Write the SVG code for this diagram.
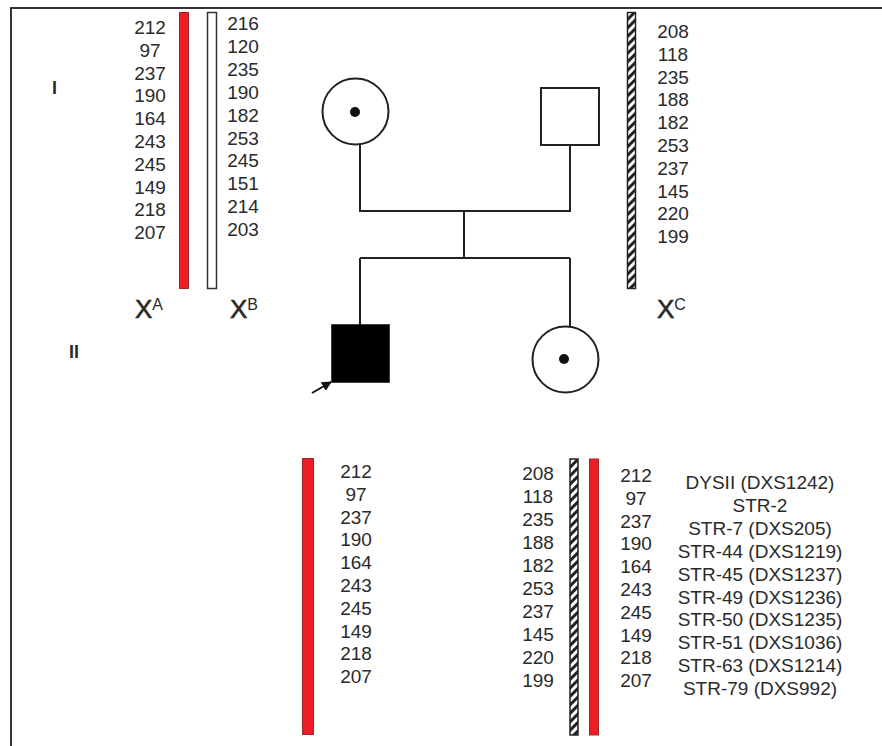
<svg xmlns="http://www.w3.org/2000/svg" width="882" height="746" viewBox="0 0 882 746">
<style>
text{font-family:"Liberation Sans",Arial,sans-serif;fill:#2a2a2a;}
.n{font-size:19px;text-anchor:middle;}
.m{font-size:19px;text-anchor:middle;}
.x{font-size:26px;stroke:#2a2a2a;stroke-width:0.6;}
.s{font-size:16px;}
.g{font-size:18px;font-weight:bold;}
.ln{stroke:#222;stroke-width:2;fill:none;}
.red{fill:#ee1c25;stroke:#9a2a2a;stroke-width:1;}
.hat{fill:url(#hatch);stroke:#222;stroke-width:1.5;}
</style>
<defs>
<pattern id="hatch" patternUnits="userSpaceOnUse" width="6" height="6" patternTransform="rotate(-45)">
<rect width="6" height="6" fill="#fff"/>
<rect width="6" height="3" fill="#222"/>
</pattern>
<marker id="arr" viewBox="0 0 10 10" refX="9" refY="5" markerWidth="5" markerHeight="5" orient="auto">
<path d="M0,0 L10,5 L0,10 z" fill="#111"/>
</marker>
</defs>
<rect x="0" y="0" width="882" height="746" fill="#fff"/>
<path d="M11,746 L11,8 L882,8" stroke="#333" stroke-width="2" fill="none"/>

<g id="generation-labels">
<text class="g" x="52" y="94">I</text>
<text class="g" x="69" y="358">II</text>
</g>

<g id="chrom-XA">
<rect class="red" x="179.5" y="12.5" width="9" height="276"/>
<g class="n">
<text x="150" y="34">212</text><text x="150" y="56.8">97</text><text x="150" y="79.6">237</text><text x="150" y="102.4">190</text><text x="150" y="125.2">164</text><text x="150" y="148">243</text><text x="150" y="170.8">245</text><text x="150" y="193.6">149</text><text x="150" y="216.4">218</text><text x="150" y="239.2">207</text>
</g>
<text x="135" y="318"><tspan class="x">X</tspan><tspan class="s" dy="-8">A</tspan></text>
</g>

<g id="chrom-XB">
<rect x="207.5" y="12.5" width="9" height="276" fill="#fff" stroke="#333" stroke-width="1.5"/>
<g class="n">
<text x="243" y="30">216</text><text x="243" y="52.9">120</text><text x="243" y="75.8">235</text><text x="243" y="98.7">190</text><text x="243" y="121.6">182</text><text x="243" y="144.5">253</text><text x="243" y="167.4">245</text><text x="243" y="190.3">151</text><text x="243" y="213.2">214</text><text x="243" y="236.1">203</text>
</g>
<text x="230" y="318"><tspan class="x">X</tspan><tspan class="s" dy="-8">B</tspan></text>
</g>

<g id="chrom-XC">
<rect class="hat" x="627.5" y="12.5" width="8" height="276"/>
<g class="n">
<text x="673" y="38">208</text><text x="673" y="60.8">118</text><text x="673" y="83.6">235</text><text x="673" y="106.4">188</text><text x="673" y="129.2">182</text><text x="673" y="152">253</text><text x="673" y="174.8">237</text><text x="673" y="197.6">145</text><text x="673" y="220.4">220</text><text x="673" y="243.2">199</text>
</g>
<text x="657" y="318"><tspan class="x">X</tspan><tspan class="s" dy="-8">C</tspan></text>
</g>

<g id="connectors">
<path class="ln" d="M360,145 V211 H570 V145"/>
<path class="ln" d="M464,211 V258"/>
<path class="ln" d="M360,258 H570"/>
<path class="ln" d="M360,258 V325"/>
<path class="ln" d="M570,258 V327"/>
<line x1="312" y1="393" x2="331" y2="382" stroke="#111" stroke-width="2" marker-end="url(#arr)"/>
</g>

<g id="mother">
<circle cx="355.5" cy="111.5" r="33" fill="#fff" stroke="#222" stroke-width="2"/>
<circle cx="355" cy="112" r="5" fill="#111"/>
</g>
<g id="father">
<rect x="541" y="88" width="58" height="57" fill="#fff" stroke="#222" stroke-width="2"/>
</g>
<g id="son">
<rect x="332" y="325" width="57" height="57" fill="#000" stroke="#000" stroke-width="1.5"/>
</g>
<g id="daughter">
<circle cx="565.5" cy="359.5" r="33" fill="#fff" stroke="#222" stroke-width="2"/>
<circle cx="564" cy="359" r="5" fill="#111"/>
</g>

<g id="son-haplotype">
<rect class="red" x="302.5" y="458.5" width="11" height="276"/>
<g class="n">
<text x="356" y="478">212</text><text x="356" y="500.8">97</text><text x="356" y="523.6">237</text><text x="356" y="546.4">190</text><text x="356" y="569.2">164</text><text x="356" y="592">243</text><text x="356" y="614.8">245</text><text x="356" y="637.6">149</text><text x="356" y="660.4">218</text><text x="356" y="683.2">207</text>
</g>
</g>

<g id="daughter-haplotype">
<g class="n">
<text x="538" y="480">208</text><text x="538" y="503">118</text><text x="538" y="526">235</text><text x="538" y="549">188</text><text x="538" y="572">182</text><text x="538" y="595">253</text><text x="538" y="618">237</text><text x="538" y="641">145</text><text x="538" y="664">220</text><text x="538" y="687">199</text>
</g>
<rect class="hat" x="570" y="459" width="8" height="276"/>
<rect class="red" x="589.5" y="459" width="9" height="276"/>
<g class="n">
<text x="636" y="482">212</text><text x="636" y="504.8">97</text><text x="636" y="527.6">237</text><text x="636" y="550.4">190</text><text x="636" y="573.2">164</text><text x="636" y="596">243</text><text x="636" y="618.8">245</text><text x="636" y="641.6">149</text><text x="636" y="664.4">218</text><text x="636" y="687.2">207</text>
</g>
</g>

<g id="markers" class="m">
<text x="760" y="489">DYSII (DXS1242)</text>
<text x="760" y="511.9">STR-2</text>
<text x="760" y="534.8">STR-7 (DXS205)</text>
<text x="760" y="557.7">STR-44 (DXS1219)</text>
<text x="760" y="580.6">STR-45 (DXS1237)</text>
<text x="760" y="603.5">STR-49 (DXS1236)</text>
<text x="760" y="626.4">STR-50 (DXS1235)</text>
<text x="760" y="649.3">STR-51 (DXS1036)</text>
<text x="760" y="672.2">STR-63 (DXS1214)</text>
<text x="760" y="695.1">STR-79 (DXS992)</text>
</g>
</svg>
